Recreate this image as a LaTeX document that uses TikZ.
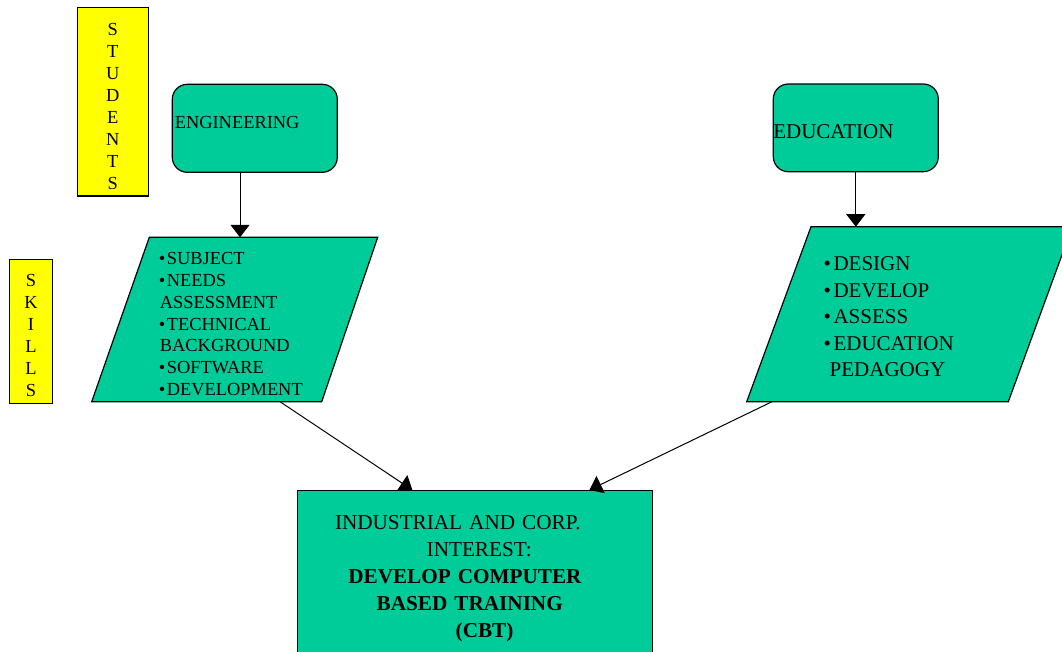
\documentclass[tikz,border=0pt]{standalone}
\usepackage{fontspec}
\setmainfont{Liberation Serif}
\usetikzlibrary{shapes,arrows.meta,calc}
\definecolor{boxgreen}{RGB}{0,204,153}
\definecolor{tagyellow}{RGB}{255,255,0}

\tikzset{
  greenbox/.style={draw, line width=1.2pt, fill=boxgreen, inner sep=0},
  tagbox/.style={draw, line width=1.2pt, fill=tagyellow, align=center, inner sep=0, font=\fontsize{18.4}{22}\selectfont},
  flowarrow/.style={line width=1pt, -{Triangle[width=19pt, length=12.5pt]}}
}

\begin{document}
\begin{tikzpicture}[x=1pt, y=-1pt]
    % Background
    \useasboundingbox (0,0) rectangle (1062,651);
    \fill[white] (0,0) rectangle (1062,651);
    \clip (0,0) rectangle (1062,651);

    % Side tags
    \node[tagbox, minimum width=71pt, minimum height=188.7pt] (students) at (112.8,101.6) {\rule{0pt}{21pt}S\\T\\U\\D\\E\\N\\T\\S};
    \node[tagbox, minimum width=43.4pt, minimum height=144pt] (skills) at (31,331.3) {\rule{0pt}{21pt}S\\K\\I\\L\\L\\S};

    % Departments
    \node[greenbox, rounded corners=15pt, minimum width=165pt, minimum height=88pt, text width=160pt, align=left,
          inner xsep=2.5pt, text height=12.1pt, text depth=12.7pt, font=\fontsize{18.4}{22}\selectfont] (eng) at (254.8,128.3) {ENGINEERING};
    \node[greenbox, rounded corners=15pt, minimum width=165pt, minimum height=87.7pt, text width=165pt, align=left,
          text height=22pt, text depth=0pt, font=\fontsize{21}{26}\selectfont] (edu) at (855.8,127.85) {EDUCATION};

    % Skill sets
    \draw[line width=1.2pt, fill=boxgreen] (149.3,237.3) -- (377.7,237.3) -- (321.7,401.7) -- (91.7,401.7) -- cycle;
    \node[anchor=north west, align=left, inner sep=0, font=\fontsize{18.4}{21.8}\selectfont] (engskills) at (158.7,252.4)
      {•\hspace*{1.5pt}SUBJECT\\•\hspace*{1.5pt}NEEDS\\\hspace*{1pt}ASSESSMENT\\•\hspace*{1.5pt}TECHNICAL\\\hspace*{1pt}BACKGROUND\\•\hspace*{1.5pt}SOFTWARE\\•\hspace*{1.5pt}DEVELOPMENT};

    \draw[line width=1.2pt, fill=boxgreen] (811,226.7) -- (1072.3,226.7) -- (1008.3,401.7) -- (746.7,401.7) -- cycle;
    \node[anchor=north west, align=left, inner sep=0, font=\fontsize{21}{26.5}\selectfont] (eduskills) at (823.5,256.5)
      {•\hspace*{2.5pt}DESIGN\\•\hspace*{2.5pt}DEVELOP\\•\hspace*{2.5pt}ASSESS\\•\hspace*{2.5pt}EDUCATION\\\hspace*{6pt}PEDAGOGY};

    \coordinate (engin) at (240,237.3);
    \coordinate (engout) at (280,401.7);
    \coordinate (eduin) at (855.8,226.7);
    \coordinate (eduout) at (772,401.7);

    % Target
    \node[greenbox, anchor=north, minimum width=355pt, minimum height=176.6pt, text width=279.6pt, align=left,
          font=\fontsize{21.2}{27}\selectfont] (cbt) at (474.8,490)
      {INDUSTRIAL AND CORP.\\\hspace*{91.7pt}INTEREST:\\\hspace*{13.3pt}\textbf{DEVELOP COMPUTER}\\\hspace*{41.7pt}\textbf{BASED TRAINING}\\\hspace*{120.7pt}\textbf{(CBT)}};

    % Arrows
    \draw[flowarrow] (eng.south -| engin) -- (engin);
    \draw[flowarrow] (edu.south) -- (eduin);
    \draw[flowarrow] (engout) -- ($(cbt.north west)+(115.7,0)$);
    \draw[flowarrow] (eduout) -- ($(cbt.north west)+(292.7,0)$);

  \end{tikzpicture}
\end{document}
